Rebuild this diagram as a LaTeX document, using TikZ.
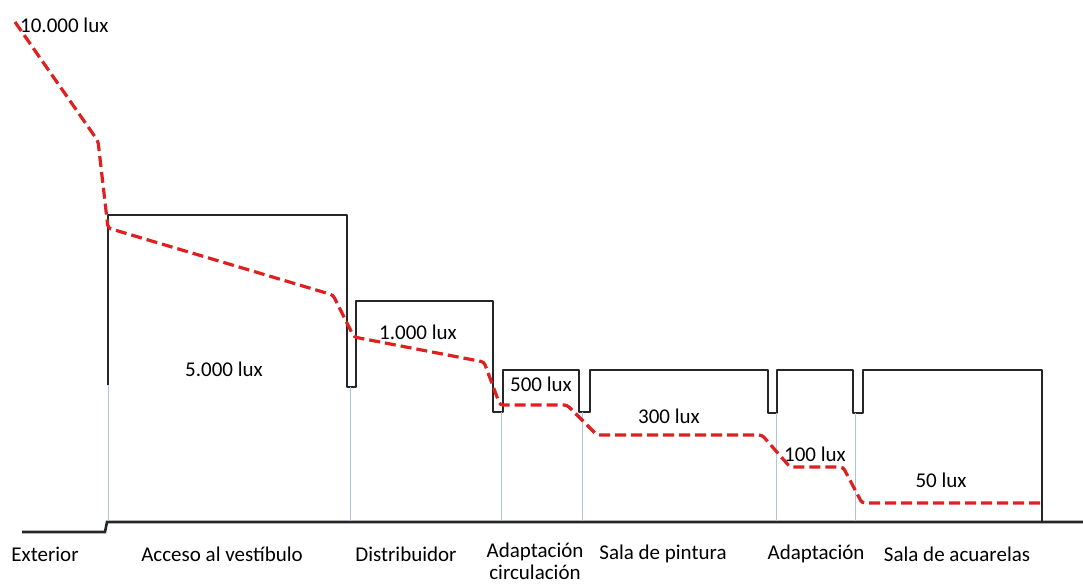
\documentclass[tikz,border=0pt]{standalone}
\usepackage{fontspec}
\setmainfont{Carlito}
\definecolor{luxred}{RGB}{222,32,32}
\definecolor{wallblue}{RGB}{172,196,222}
\begin{document}
\begin{tikzpicture}[x=1pt,y=-1pt,
    every node/.style={font=\fontsize{21}{22}\selectfont, text=black, inner sep=1pt},
    wall/.style={line width=2.4pt, line join=round, black!85},
    lux/.style={luxred, line width=3.2pt, dash pattern=on 11pt off 5pt, rounded corners=3pt}]
            \useasboundingbox (0,0) rectangle (1083,588);

            % ground line
            \draw [line width=2.6pt, black!85] (22,532) -- (105,532) -- (107,522) -- (1083,522);

            % room outline
            \draw [wall] (108,385) -- (108,215) -- (347,215) -- (347,387) -- (356,387)
                -- (356,301) -- (493,301) -- (493,412) -- (503,412) -- (503,370)
                -- (579,370) -- (579,412) -- (590,412) -- (590,370) -- (768,370)
                -- (768,413) -- (777,413) -- (777,370) -- (853,370) -- (853,413)
                -- (863,413) -- (863,370) -- (1042,370) -- (1042,522);

            % door lines
            \draw [wallblue, line width=0.8pt] (108,385) -- (108,521);
            \draw [wallblue, line width=0.8pt] (350,387) -- (350,521);
            \draw [wallblue, line width=0.8pt] (501,412) -- (501,521);
            \draw [wallblue, line width=0.8pt] (582,412) -- (582,521);
            \draw [wallblue, line width=0.8pt] (776,413) -- (776,521);
            \draw [wallblue, line width=0.8pt] (855,413) -- (855,521);

            % light level
            \coordinate (p0) at (15,22);
            \coordinate (p1) at (98,141);
            \coordinate (p2) at (108,228);
            \coordinate (p3) at (333,295);
            \coordinate (p4) at (354,337);
            \coordinate (p5) at (484,362);
            \coordinate (p6) at (500,405);
            \coordinate (p7) at (567,405);
            \coordinate (p8) at (597,435);
            \coordinate (p9) at (762,435);
            \coordinate (p10) at (790,467);
            \coordinate (p11) at (843,467);
            \coordinate (p12) at (862,503);
            \coordinate (p13) at (1042,503);
            \draw [lux] (p0) -- (p1) -- (p2) -- (p3) -- (p4) -- (p5) -- (p6) -- (p7)
                -- (p8) -- (p9) -- (p10) -- (p11) -- (p12) -- (p13);

            \node (l1) [anchor=west] at (19,25) {10.000 lux};
            \node (l2) at (224,369) {5.000 lux};
            \node (l3) at (418,332) {1.000 lux};
            \node (l4) at (541,384) {500 lux};
            \node (l5) at (669,416) {300 lux};
            \node (l6) at (815,454) {100 lux};
            \node (l7) at (941,480) {50 lux};

            \node (r1) at (45,554) {Exterior};
            \node (r2) at (222,554) {Acceso al vestíbulo};
            \node (r3) at (406,554) {Distribuidor};
            \node (r4) [align=center, anchor=north] at (535,542) {Adaptación\\circulación};
            \node (r5) at (663,554) {Sala de pintura};
            \node (r6) at (816,554) {Adaptación};
            \node (r7) at (957,554) {Sala de acuarelas};
        \end{tikzpicture}
\end{document}
